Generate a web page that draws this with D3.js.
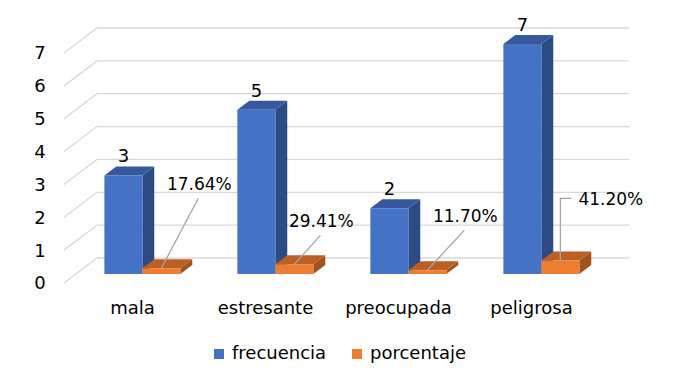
<!DOCTYPE html>
<html>
<head>
<meta charset="utf-8">
<script src="https://cdn.jsdelivr.net/npm/d3@7"></script>
<style>
body { margin: 0; background: #fff; }
svg { display: block; font-family: "DejaVu Sans", sans-serif; }
</style>
</head>
<body>
<svg width="676" height="385"></svg>
<script>
var categories = ["mala", "estresante", "preocupada", "peligrosa"];
var frecuencia = [3, 5, 2, 7];
var porcentaje = [0.1764, 0.2941, 0.1170, 0.4120];
var pctLabels = ["17.64%", "29.41%", "11.70%", "41.20%"];
var seriesNames = ["frecuencia", "porcentaje"];
var yTicks = [0, 1, 2, 3, 4, 5, 6, 7];

// leader line offsets for the percent labels (dx, dy, elbow)
var leaderOffsets = [[37, -70, false], [26, -29, false], [37, -40, false], [0, -62, true]];

var svg = d3.select("svg");

var colors = {
	frecuencia: { front: "#4472c4", top: "#35599c", side: "#2c4b85" },
	porcentaje: { front: "#ed7d31", top: "#bb5f25", side: "#a1521d" }
};

// oblique depth: z in [0,1] from front edge to back wall
var depthX = 33, depthY = 25;
var z0 = 0.36, z1 = 0.72;

var x = d3.scaleBand()
	.domain(categories)
	.range([64, 596])
	.paddingInner(0.4286)
	.paddingOuter(0.2143);

var xs = d3.scaleBand()
	.domain(seriesNames)
	.range([0, x.bandwidth()]);

var y = d3.scaleLinear()
	.domain([0, 7])
	.range([283, 53]);

function P(px, v, z) { return [px + z * depthX, y(v) - z * depthY]; }
function pts(a) { return a.map(function(p) { return p.join(","); }).join(" "); }

// gridlines: left wall + back wall
var grid = svg.append("g").attr("stroke", "#d9d9d9").attr("stroke-width", 1.3).attr("fill", "none");
yTicks.forEach(function(t) {
	var a = P(x.range()[0], t, 0), b = P(x.range()[0], t, 1), c = P(x.range()[1], t, 1);
	grid.append("polyline").attr("points", pts([a, b, c]));
});

svg.append("g").selectAll("text")
	.data(yTicks)
	.enter().append("text")
	.attr("x", 40)
	.attr("y", function(d) { return y(d); })
	.attr("dy", "0.36em")
	.attr("text-anchor", "middle")
	.attr("font-size", 18)
	.attr("fill", "#000")
	.text(function(d) { return d; });

var bars = [];
categories.forEach(function(c, i) {
	bars.push({ cat: c, s: "frecuencia", v: frecuencia[i] });
	bars.push({ cat: c, s: "porcentaje", v: porcentaje[i] });
});

var bar = svg.append("g").selectAll("g")
	.data(bars)
	.enter().append("g");

bar.each(function(d) {
	var g = d3.select(this);
	var x0 = x(d.cat) + xs(d.s), x1 = x0 + xs.bandwidth();
	var col = colors[d.s];
	g.append("polygon")
		.attr("points", pts([P(x1, 0, z0), P(x1, d.v, z0), P(x1, d.v, z1), P(x1, 0, z1)]))
		.attr("fill", col.side);
	g.append("polygon")
		.attr("points", pts([P(x0, d.v, z0), P(x1, d.v, z0), P(x1, d.v, z1), P(x0, d.v, z1)]))
		.attr("fill", col.top);
	g.append("polygon")
		.attr("points", pts([P(x0, 0, z0), P(x0, d.v, z0), P(x1, d.v, z0), P(x1, 0, z0)]))
		.attr("fill", col.front);
});

// value labels on blue bars
svg.append("g").selectAll("text")
	.data(frecuencia)
	.enter().append("text")
	.attr("x", function(d, i) { return P(x(categories[i]) + xs("frecuencia") + xs.bandwidth() / 2, d, z0)[0]; })
	.attr("y", function(d) { return y(d) - z1 * depthY - 4; })
	.attr("text-anchor", "middle")
	.attr("font-size", 18)
	.text(function(d) { return d; });

// percent labels with leader lines
var lab = svg.append("g");
porcentaje.forEach(function(v, i) {
	var s = P(x(categories[i]) + xs("porcentaje") + xs.bandwidth() / 2, v, z0);
	var o = leaderOffsets[i];
	var e = [s[0] + o[0], s[1] + o[1]];
	if (o[2]) {
		lab.append("polyline")
			.attr("points", pts([s, e, [e[0] + 11, e[1]]]))
			.attr("fill", "none").attr("stroke", "#a6a6a6").attr("stroke-width", 1.3);
		lab.append("text")
			.attr("x", e[0] + 18).attr("y", e[1]).attr("dy", "0.36em")
			.attr("font-size", 17).text(pctLabels[i]);
	} else {
		lab.append("line")
			.attr("x1", s[0]).attr("y1", s[1]).attr("x2", e[0]).attr("y2", e[1])
			.attr("stroke", "#a6a6a6").attr("stroke-width", 1.3);
		lab.append("text")
			.attr("x", e[0] + 1).attr("y", e[1] - 8)
			.attr("text-anchor", "middle")
			.attr("font-size", 17).text(pctLabels[i]);
	}
});

// category labels
svg.append("g").selectAll("text")
	.data(categories)
	.enter().append("text")
	.attr("x", function(d) { return x(d) + x.bandwidth() / 2 + 2; })
	.attr("y", y(0) + 31)
	.attr("text-anchor", "middle")
	.attr("font-size", 18)
	.text(function(d) { return d; });

// legend
var legendX = [214, 352];
var legend = svg.append("g").selectAll("g")
	.data(seriesNames)
	.enter().append("g")
	.attr("transform", function(d, i) { return "translate(" + legendX[i] + ",349)"; });
legend.append("rect").attr("width", 10).attr("height", 10)
	.attr("fill", function(d) { return colors[d].front; });
legend.append("text").attr("x", 18).attr("y", 10).attr("font-size", 18)
	.text(function(d) { return d; });
</script>
</body>
</html>
